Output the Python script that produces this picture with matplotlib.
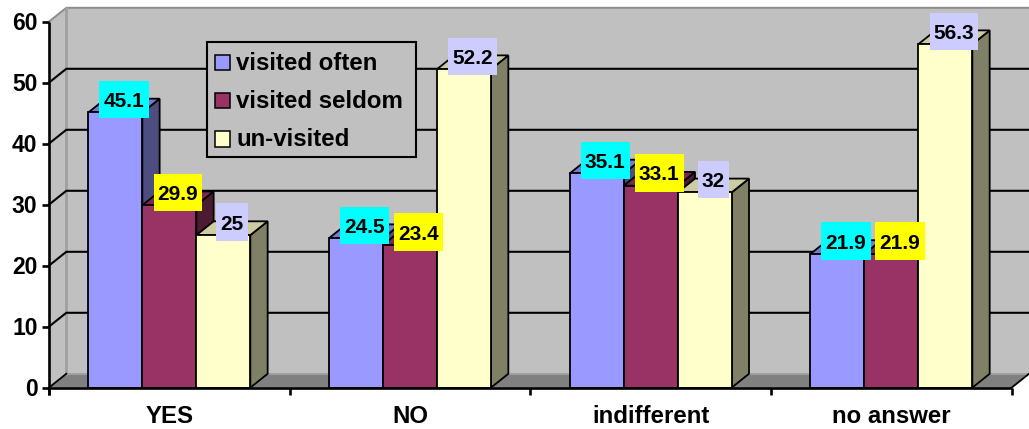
import matplotlib
matplotlib.use("Agg")
import matplotlib.pyplot as plt
import matplotlib.transforms as mtransforms
from matplotlib.patches import Polygon, Rectangle
from matplotlib.path import Path

# ---- data -------------------------------------------------------------
categories = ["YES", "NO", "indifferent", "no answer"]
series_names = ["visited often", "visited seldom", "un-visited"]
visited_often = [45.1, 24.5, 35.1, 21.9]
visited_seldom = [29.9, 23.4, 33.1, 21.9]
un_visited = [25, 52.2, 32, 56.3]
y_ticks = [0, 10, 20, 30, 40, 50, 60]

series = [visited_often, visited_seldom, un_visited]
face_colors = ["#9999FF", "#993366", "#FFFFCC"]
label_bg = ["#00FFFF", "#FFFF00", "#CCCCFF"]

FONT = "Liberation Sans"

# ---- canvas / scales -------------------------------------------------
W, H, DPI = 1029, 429, 100
fig = plt.figure(figsize=(W / DPI, H / DPI), dpi=DPI)
fig.patch.set_facecolor("white")
ax = fig.add_axes([0, 0, 1, 1])
ax.axis("off")

px_per_cat = 240.675     # pixels per category slot
px_per_val = 6.1         # pixels per value unit
origin_x, origin_y = 49.0, 387.6   # pixel position of (0, 0), y from top
xmin = -origin_x / px_per_cat
ymin = -(H - origin_y) / px_per_val
ax.set_xlim(xmin, xmin + W / px_per_cat)
ax.set_ylim(ymin, ymin + H / px_per_val)

# depth offset of the 3-D box, in data units
DX = 17.3 / px_per_cat
DY = 13.8 / px_per_val
n_cat = len(categories)
vmax = y_ticks[-1]
bar_w = 0.2244


def shade(hexcol, f):
    r, g, b = matplotlib.colors.to_rgb(hexcol)
    return (r * f, g * f, b * f)


def px_offset(dx_px, dy_px):
    return mtransforms.offset_copy(ax.transData, fig=fig, x=dx_px, y=dy_px, units="dots")


wall = "#C0C0C0"
edge_gray = "#8C8C8C"

# walls and floor
ax.add_patch(Polygon([(DX, DY), (n_cat + DX, DY), (n_cat + DX, vmax + DY), (DX, vmax + DY)],
                     closed=True, facecolor=wall, edgecolor="none", zorder=1))
ax.add_patch(Polygon([(0, 0), (DX, DY), (DX, vmax + DY), (0, vmax)],
                     closed=True, facecolor=wall, edgecolor="none", zorder=1))
ax.add_patch(Polygon([(0, 0), (n_cat, 0), (n_cat + DX, DY), (DX, DY)],
                     closed=True, facecolor="#808080", edgecolor="none", zorder=1))

# wall outlines
ax.plot([0, DX, n_cat + DX], [vmax, vmax + DY, vmax + DY], color=edge_gray, lw=1.4, zorder=2,
        solid_capstyle="butt")
ax.plot([DX, DX], [DY, vmax + DY], color="#A0A0A0", lw=2.0, zorder=2)
ax.plot([DX, n_cat + DX], [DY, DY], color="#A0A0A0", lw=1.4, zorder=2)

# gridlines on both walls
for v in y_ticks[1:-1]:
    ax.plot([0, DX, n_cat + DX], [v, v + DY, v + DY], color="black", lw=1.5, zorder=2,
            solid_joinstyle="miter")

# bars
for i in range(n_cat):
    left0 = i + 0.5 - 1.5 * bar_w
    for s, vals in enumerate(series):
        v = vals[i]
        xl = left0 + s * bar_w
        xr = xl + bar_w
        col = face_colors[s]
        z = 3 + i * 0.1 + s * 0.01
        ax.add_patch(Polygon([(xr, 0), (xr + DX, DY), (xr + DX, v + DY), (xr, v)], closed=True,
                             facecolor=shade(col, 0.5), edgecolor="black", lw=1.3, zorder=z,
                             joinstyle="miter"))
        ax.add_patch(Polygon([(xl, v), (xr, v), (xr + DX, v + DY), (xl + DX, v + DY)], closed=True,
                             facecolor=shade(col, 0.8), edgecolor="black", lw=1.3, zorder=z,
                             joinstyle="miter"))
        ax.add_patch(Rectangle((xl, 0), bar_w, v, facecolor=col, edgecolor="black", lw=1.3,
                               zorder=z + 0.005, joinstyle="miter"))

# axes lines
ax.plot([0, 0], [-7 / px_per_val, vmax], color="black", lw=1.9, zorder=6, solid_capstyle="butt")
ax.plot([0, n_cat], [0, 0], color="black", lw=1.9, zorder=6, solid_capstyle="butt")
ax.plot([0, DX], [0, DY], color="black", lw=1.3, zorder=6)
ax.plot([n_cat, n_cat + DX], [0, DY], color="black", lw=1.3, zorder=6)

# tick marks and tick labels
for v in y_ticks:
    ax.plot([-7.5 / px_per_cat, 0], [v, v], color="black", lw=1.9, zorder=6, solid_capstyle="butt")
    ax.text(0, v, str(v), transform=px_offset(-11.5, -8.0), ha="right", va="baseline",
            fontsize=16.5, fontweight="bold", family=FONT, zorder=7)
for k in range(n_cat + 1):
    ax.plot([k, k], [0, -7 / px_per_val], color="black", lw=1.9, zorder=6, solid_capstyle="butt")
for i, name in enumerate(categories):
    ax.text(i + 0.5, 0, name, transform=px_offset(0, -35.5), ha="center", va="baseline",
            fontsize=17.3, fontweight="bold", family=FONT, zorder=7)


# value labels with tall, narrow boxes
def label_box(x0, y0, width, height, mutation_size):
    padx = 0.2 * mutation_size
    bh = 1.8 * mutation_size
    cy = y0 + height / 2 + 0.1 * mutation_size
    l, r = x0 - padx, x0 + width + padx
    b, t = cy - bh / 2, cy + bh / 2
    return Path([(l, b), (r, b), (r, t), (l, t), (l, b)], closed=True)


for i in range(n_cat):
    left0 = i + 0.5 - 1.5 * bar_w
    for s, vals in enumerate(series):
        v = vals[i]
        xc = left0 + s * bar_w + bar_w / 2 + DX / 2
        ax.annotate(f"{v:g}", xy=(xc, v + DY / 2), xytext=(0, 2.8), textcoords="offset points",
                    ha="center", va="center", fontsize=15, fontweight="bold", family=FONT,
                    zorder=8 + s * 0.01 + i * 0.1,
                    bbox=dict(boxstyle=label_box, facecolor=label_bg[s], edgecolor="none"))


# legend
def fxy(x, y):
    return x / W, 1 - y / H


lx0, ly0, lx1, ly1 = 206.7, 42.3, 415.5, 157.3
ax.add_patch(Rectangle(fxy(lx0, ly1), (lx1 - lx0) / W, (ly1 - ly0) / H, transform=fig.transFigure,
                       facecolor=wall, edgecolor="black", lw=1.5, zorder=9))
row_base = [70.0, 108.2, 146.5]
msz = 15.3
for s, name in enumerate(series_names):
    yb = row_base[s]
    ax.add_patch(Rectangle(fxy(214.5, yb), msz / W, msz / H, transform=fig.transFigure,
                           facecolor=face_colors[s], edgecolor="black", lw=1.1, zorder=10))
    ax.text(*fxy(236.5, yb), name, transform=fig.transFigure, ha="left", va="baseline",
            fontsize=17.3, fontweight="bold", family=FONT, zorder=10)

fig.savefig("out.png", dpi=DPI, facecolor="white")
